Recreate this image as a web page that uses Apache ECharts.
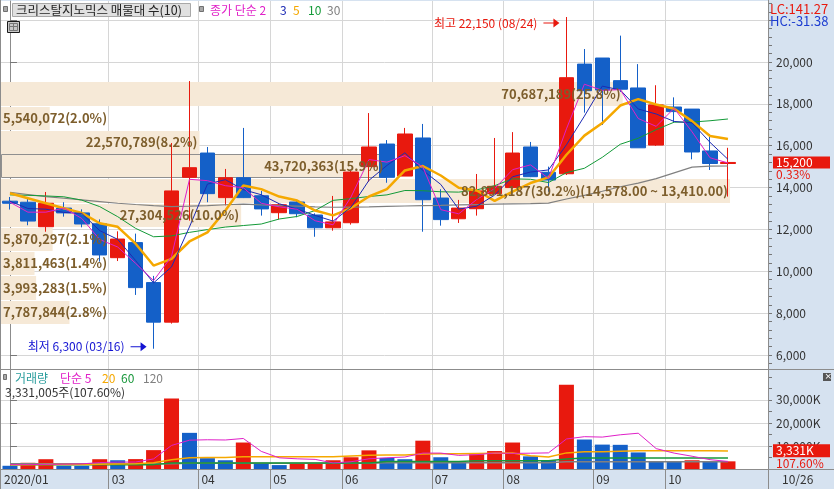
<!DOCTYPE html>
<html><head><meta charset="utf-8">
<script src="https://cdn.jsdelivr.net/npm/echarts@6/dist/echarts.min.js"></script>
<style>html,body{margin:0;padding:0;background:#d6e2f0;}#c{width:834px;height:489px;}</style>
</head><body><div id="c"></div>
<script>
// ---------------- data ----------------
const weeks = ['01/20','01/27','02/03','02/10','02/17','02/24','03/02','03/09','03/16','03/23','03/30','04/06','04/13','04/20','04/27','05/04','05/11','05/18','05/25','06/01','06/08','06/15','06/22','06/29','07/06','07/13','07/20','07/27','08/03','08/10','08/17','08/24','08/31','09/07','09/14','09/21','09/28','10/05','10/12','10/19','10/26'];
const opens  = [13350,13300,12130,13020,12790,12270,10650,11370,9460,7570,14490,15650,13520,14470,13610,12800,13310,12690,12080,12320,15000,16080,14550,16370,13500,12510,12990,13710,14000,15940,14730,14660,19900,20190,19110,18760,16030,17850,17750,15750,15150];
const closes = [13250,12400,13250,12790,12260,10780,11540,9220,7570,13840,14950,13710,14470,13520,12980,13180,12750,12080,12360,14740,15940,14490,16560,13420,12470,13020,13840,14060,15650,14520,14360,19250,18630,18660,18700,15900,17950,17630,15700,15150,15200];
const lows   = [12950,12200,11890,12610,12100,10460,10490,8870,6300,7500,12420,13300,13150,13500,12660,12480,12580,11650,11940,12230,14280,14230,14550,11890,12180,12310,12660,13700,13950,14500,13800,14600,17580,16990,18570,15900,15990,17120,15350,14840,13570];
const highs  = [13550,13550,13790,13300,12960,12480,11910,11800,9780,16130,19090,15940,14890,16850,13840,13250,13410,12770,13600,14800,17560,16270,16850,17040,13920,13410,14650,16370,16650,16180,15000,22150,20620,20190,21260,19900,18890,18310,17750,16560,15900];
const ma2  = [13300,12825,12825,13020,12525,11520,11160,10380,9555,10705,14395,14330,14090,13995,13250,13080,12965,12415,12220,13550,15340,15215,15525,14990,12945,12745,13430,13950,14855,15085,14440,16805,18940,18645,18680,17300,16925,17790,16665,15425,15175];
const ma3  = [13350,13000,12967,12813,12767,11943,11527,10513,9443,10210,12120,14167,14377,13900,13657,13227,12970,12670,12397,13060,14347,15057,15663,14823,14150,12970,13110,13640,14517,14743,14843,16043,17413,18847,18663,17753,17517,17160,17093,16160,15350];
const ma5  = [13730,13490,13250,13010,12790,12296,12124,11318,10274,10590,11424,11858,12908,14098,13926,13572,13380,12902,12670,13022,13574,13922,14818,15030,14576,13992,13862,13362,13808,14218,14486,15568,16482,17084,17920,18228,17968,17768,17176,16466,16326];
const ma10 = [13650,13630,13600,13560,13400,13090,12610,12050,11650,11690,11860,11991,12113,12186,12258,12498,12619,12905,13389,13474,13573,13651,13860,13850,13799,13783,13892,14090,14419,14397,14239,14715,14922,15446,16069,16357,16768,17125,17130,17193,17277];
const ma30 = [13770,13670,13570,13490,13410,13330,13250,13190,13135,13090,13110,13140,13180,13210,13170,13140,13110,13080,13060,13070,13080,13100,13120,13135,13150,13170,13190,13210,13220,13230,13260,13453,13630,13826,14040,14211,14425,14705,14978,15021,15030];
const volumes = [1400000,2700000,4250000,1400000,1350000,4250000,3800000,4300000,8200000,30600000,15700000,4700000,3800000,11500000,2550000,1700000,2550000,2600000,3800000,5100000,8100000,4800000,4250000,12300000,5100000,3100000,6400000,7800000,11500000,5500000,3800000,36600000,12800000,10600000,10500000,7200000,3150000,3050000,3800000,3095730,3331005];
const volMa5   = [1.9,1.9,2.0,2.1,2.22,2.79,3.01,3.02,4.38,10.23,12.52,12.7,12.6,13.26,7.65,4.85,4.42,4.18,2.64,3.15,4.43,4.88,5.21,6.91,6.91,5.91,6.23,6.94,6.78,6.86,7.0,13.04,14.04,13.86,14.86,15.54,8.85,6.9,5.54,4.06,3.29];
const volMa20  = [1.9,1.9,1.95,2.0,2.0,2.1,2.2,2.3,2.7,4.0,4.9,5.0,5.0,5.3,5.3,5.3,5.3,5.3,5.3,5.7,6.0,6.1,6.1,6.5,6.6,6.6,6.7,6.8,6.9,5.8,5.2,7.0,7.5,7.5,7.7,7.9,7.9,7.9,7.9,7.9,7.8];
const volMa60  = [1.9,1.9,1.9,1.9,1.9,1.9,1.9,1.9,1.9,2.6,2.6,2.6,2.6,2.6,2.6,2.6,2.6,2.6,2.6,2.6,2.6,3.3,3.3,3.3,3.3,3.3,3.6,3.6,3.6,3.6,3.6,4.3,4.8,4.8,4.8,4.8,4.8,4.8,4.8,4.8,4.8];
const volMa120 = [2.3,2.3,2.3,2.3,2.3,2.3,2.3,2.3,2.3,2.3,2.5,2.5,2.5,2.5,2.5,2.5,2.5,2.5,2.5,2.5,2.5,2.7,2.7,2.7,2.7,2.7,2.7,2.7,2.7,2.7,2.7,3.1,3.1,3.1,3.1,3.1,3.1,3.1,3.1,3.1,3.1];
const bandEdges = [7480,8640,9800,10960,12120,13280,14440,15600,16760,17920,19080];
const bandVolumes = [7787844,3993283,3811463,5870297,27304526,82891187,43720363,22570789,5540072,70687189];
const topBandRange = [14578, 13410];
const monthTickIndex = [0,6,11,15,19,24,28,33,37];
const monthTickText = ['2020/01','03','04','05','06','07','08','09','10'];
const priceTicks = [6000,8000,10000,12000,14000,16000,18000,20000,22000];
const priceLabels = [6000,8000,10000,12000,14000,16000,18000,20000];
const volTicks = [10000000,20000000,30000000];
const indicatorText = ['LC:141.27','HC:-31.38'];

// ---------------- helpers ----------------
const RED = '#e8190e', BLUE = '#1460c8', GRID = '#d6d6d6';
const FONT = "'Noto Sans CJK KR','Noto Sans',sans-serif";
const fmt = n => Math.round(n).toLocaleString('en-US');
const X_MAX = 767 / 17.95 - 0.5;
const PMIN = 5331, PMAX = 22915, VMAX = 43000000;
const BAND_RATIO = 0.9505;
const n = weeks.length;
const lastClose = closes[n-1], prevClose = closes[n-2];
const lastVol = volumes[n-1], prevVol = volumes[n-2];
const maxBandVol = Math.max(...bandVolumes);
const totalBandVol = bandVolumes.reduce((a,b)=>a+b,0);
const hiVal = Math.max(...highs), hiIdx = highs.indexOf(hiVal);
const loVal = Math.min(...lows), loIdx = lows.indexOf(loVal);
const mctx = document.createElement('canvas').getContext('2d');
const textW = (t, font) => { mctx.font = font; return mctx.measureText(t).width; };
const BAND_FONT = "bold 13px 'Noto Sans CJK KR'";

const minorPrice = []; for (let v = 5600; v <= 22800; v += 400) minorPrice.push(v);
const minorVol = []; for (let v = 0; v <= 40000000; v += 5000000) minorVol.push(v);
const monthBounds = monthTickIndex.filter(i => i > 0).map(i => i - 0.5);
const labelPos = monthTickIndex.map(i => i - 0.5);

const candleData = weeks.map((_, i) => [i, opens[i], closes[i], lows[i], highs[i]]);
const xy = arr => arr.map((v, i) => [i, v]);
const xyM = arr => arr.map((v, i) => [i, v * 1e6]);
const bandData = bandVolumes.map((v, k) => [-0.5, bandEdges[k], bandEdges[k+1], v, k]);

function bandGeom(params, api) {
  const cs = params.coordSys;
  const lo = api.value(1), hi = api.value(2), v = api.value(3);
  const y1 = Math.round(api.coord([0, hi])[1]), y2 = Math.round(api.coord([0, lo])[1]);
  const w = cs.width * BAND_RATIO * v / maxBandVol;
  return {cs, lo, hi, v, y1, y2, w};
}
function bandRect(params, api) {
  const g = bandGeom(params, api);
  const cur = lastClose >= g.lo && lastClose < g.hi;
  return {type: 'rect', shape: {x: g.cs.x + (cur ? 0.5 : 0), y: g.y1 + (cur ? 0.5 : 1), width: g.w, height: g.y2 - g.y1 - 1},
    style: {fill: '#f6e9d7', stroke: cur ? '#8f8f8f' : null, lineWidth: 1}};
}
function bandText(params, api) {
  const g = bandGeom(params, api);
  let txt = fmt(g.v) + '(' + (g.v / totalBandVol * 100).toFixed(1) + '%)';
  if (g.v === maxBandVol) txt += '(' + topBandRange[0].toLocaleString('en-US',{minimumFractionDigits:2}) + ' ~ ' + topBandRange[1].toLocaleString('en-US',{minimumFractionDigits:2}) + ')';
  const tw = textW(txt, BAND_FONT);
  const right = g.w > tw + 4;
  return {type: 'text', x: right ? g.cs.x + g.w - 2 : g.cs.x + 2, y: (g.y1 + g.y2) / 2 + 0.5,
    style: {text: txt, textAlign: right ? 'right' : 'left', textVerticalAlign: 'middle', fill: '#7d5e2c', font: BAND_FONT}};
}
function maLine(data, color, width, xi, yi) {
  return {type: 'line', xAxisIndex: xi, yAxisIndex: yi, data, symbol: 'none', silent: true, z: 4,
    lineStyle: {color, width}, itemStyle: {color}};
}
const ARROW = 'path://M0,4L10,4L10,0L16,4.5L10,9L10,5L0,5Z';
const HIDDEN_LINE = {color: 'rgba(0,0,0,0)', width: 1, type: 'solid'};

const chart = echarts.init(document.getElementById('c'), null, {renderer: 'canvas'});
const gtext = (x, y, text, fill, size) => ({type: 'text', x, y, z: 100, silent: true,
  style: {text, fill, font: (size || 12) + "px 'Noto Sans CJK KR'"}});
const gline = (x1, y1, x2, y2, c) => ({type: 'line', z: 100, silent: true, shape: {x1, y1, x2, y2}, style: {stroke: c || '#8c8c8c', lineWidth: 1}});
const grect = (x, y, w, h, fill, stroke) => ({type: 'rect', z: 100, silent: true, shape: {x, y, width: w, height: h}, style: {fill, stroke: stroke || null, lineWidth: 1}});

const option = {
  animation: false,
  backgroundColor: '#d6e2f0',
  textStyle: {fontFamily: FONT},
  grid: [
    {left: 1, top: 1, width: 767, height: 368, show: true, backgroundColor: '#fff', borderWidth: 0},
    {left: 1, top: 370, width: 767, height: 99, show: true, backgroundColor: '#fff', borderWidth: 0}
  ],
  xAxis: [
    {type: 'value', gridIndex: 0, min: -0.5, max: X_MAX, axisLine: {show: false},
      axisTick: {show: false, customValues: monthBounds}, axisLabel: {show: false},
      splitLine: {show: true, lineStyle: {color: GRID}}},
    {type: 'value', gridIndex: 1, min: -0.5, max: X_MAX, position: 'bottom',
      axisLine: {show: true, lineStyle: {color: '#8c8c8c'}},
      axisTick: {show: true, customValues: monthBounds, length: 20, lineStyle: {color: '#8c8c8c'}},
      axisLabel: {show: true, customValues: labelPos, align: 'left', margin: 4, color: '#333', fontSize: 12, padding: [0,0,0,3],
        formatter: v => monthTickText[monthTickIndex.indexOf(Math.round(v + 0.5))] || ''},
      splitLine: {show: true, lineStyle: {color: GRID}}}
  ],
  yAxis: [
    {type: 'value', gridIndex: 0, position: 'right', min: PMIN, max: PMAX,
      axisLine: {show: true, lineStyle: {color: '#8c8c8c'}},
      axisTick: {show: true, customValues: priceTicks, length: 7, lineStyle: {color: '#777'}},
      axisLabel: {show: true, customValues: priceLabels, margin: 8, color: '#333', fontSize: 12, formatter: v => fmt(v)},
      splitLine: {show: true, lineStyle: {color: GRID}}},
    {type: 'value', gridIndex: 0, position: 'right', min: PMIN, max: PMAX,
      axisLine: {show: false}, axisTick: {show: true, customValues: minorPrice, length: 4, lineStyle: {color: '#777'}},
      axisLabel: {show: false}, splitLine: {show: false}},
    {type: 'value', gridIndex: 1, position: 'right', min: 0, max: VMAX,
      axisLine: {show: true, lineStyle: {color: '#8c8c8c'}},
      axisTick: {show: true, customValues: volTicks, length: 7, lineStyle: {color: '#777'}},
      axisLabel: {show: true, customValues: volTicks, margin: 8, color: '#333', fontSize: 12, formatter: v => fmt(v / 1000) + 'K'},
      splitLine: {show: true, lineStyle: {color: GRID}}},
    {type: 'value', gridIndex: 1, position: 'right', min: 0, max: VMAX,
      axisLine: {show: false}, axisTick: {show: true, customValues: minorVol, length: 4, lineStyle: {color: '#777'}},
      axisLabel: {show: false}, splitLine: {show: false}}
  ],
  series: [
    {type: 'custom', xAxisIndex: 0, yAxisIndex: 0, z: 1, silent: true, renderItem: bandRect, data: bandData},
    {type: 'candlestick', xAxisIndex: 0, yAxisIndex: 0, z: 3, barWidth: 15, silent: true, data: candleData,
      itemStyle: {color: RED, color0: BLUE, borderColor: RED, borderColor0: BLUE, borderWidth: 1},
      markLine: {silent: true, symbol: ['none', 'none'], animation: false, z: 10, lineStyle: HIDDEN_LINE,
        label: {show: true, position: 'end', distance: 5,
          formatter: '{e| }\n{a|' + fmt(lastClose) + '}\n{b|' + ((lastClose - prevClose) / prevClose * 100).toFixed(2) + '%}',
          rich: {e: {height: 11, lineHeight: 11, fontSize: 11},
            a: {backgroundColor: RED, color: '#fff', width: 50, height: 12, lineHeight: 12, padding: [0, 4, 0, 3], fontSize: 12, fontFamily: FONT},
            b: {color: RED, height: 11, lineHeight: 11, fontSize: 12, padding: [0, 0, 0, 3], fontFamily: FONT}}},
        emphasis: {disabled: true},
        data: [{yAxis: lastClose}]},
      markPoint: {silent: true, animation: false, symbol: ARROW, symbolSize: [16, 9],
        data: [
          {coord: [hiIdx, hiVal], symbolOffset: [-15, 6], itemStyle: {color: RED},
            label: {show: true, position: 'left', distance: 6, color: RED, fontSize: 12, fontFamily: FONT,
              formatter: '최고 ' + fmt(hiVal) + ' (' + weeks[hiIdx] + ')'}},
          {coord: [loIdx, loVal], symbolOffset: [-15, -2], itemStyle: {color: '#1414d2'},
            label: {show: true, position: 'left', distance: 6, color: '#1414d2', fontSize: 12, fontFamily: FONT,
              formatter: '최저 ' + fmt(loVal) + ' (' + weeks[loIdx] + ')'}}
        ]}},
    maLine(xy(ma30), '#808080', 1.2, 0, 0),
    maLine(xy(ma10), '#139a38', 1, 0, 0),
    maLine(xy(ma5), '#f5a800', 2.5, 0, 0),
    maLine(xy(ma3), '#1c2ab4', 1, 0, 0),
    maLine(xy(ma2), '#e020c8', 1, 0, 0),
    {type: 'custom', xAxisIndex: 0, yAxisIndex: 0, z: 6, silent: true, renderItem: bandText, data: bandData},
    {type: 'bar', xAxisIndex: 1, yAxisIndex: 2, barWidth: 15, silent: true, z: 2, data: xy(volumes),
      itemStyle: {color: p => (p.dataIndex > 0 && volumes[p.dataIndex] > volumes[p.dataIndex - 1]) ? RED : BLUE},
      markLine: {silent: true, symbol: ['none', 'none'], animation: false, z: 10, lineStyle: HIDDEN_LINE,
        label: {show: true, position: 'end', distance: 5,
          formatter: '{a|' + fmt(lastVol / 1000) + 'K}\n{b|' + (lastVol / prevVol * 100).toFixed(2) + '%}\n{e| }',
          rich: {e: {height: 9, lineHeight: 9, fontSize: 9},
            a: {backgroundColor: RED, color: '#fff', width: 50, height: 13, lineHeight: 13, padding: [0, 4, 0, 3], fontSize: 12, fontFamily: FONT},
            b: {color: RED, height: 12, lineHeight: 12, fontSize: 12, padding: [0, 0, 0, 3], fontFamily: FONT}}},
        emphasis: {disabled: true},
        data: [{yAxis: lastVol}]}},
    maLine(xyM(volMa120), '#808080', 1.5, 1, 2),
    maLine(xyM(volMa60), '#17963a', 1.5, 1, 2),
    maLine(xyM(volMa20), '#f5a800', 1.5, 1, 2),
    maLine(xyM(volMa5), '#e020c8', 1, 1, 2)
  ],
  graphic: [
    gline(0, 369.5, 834, 369.5), gline(0, 469.5, 834, 469.5),
    gline(0.5, 0, 0.5, 489), gline(768.5, 0, 768.5, 489),
    grect(3.5, 6.5, 4, 5, '#a8a8a8', '#707070'),
    grect(12.5, 3.5, 178, 13, '#e0e0e0', '#a8a8a8'),
    gtext(16, 3.5, '크리스탈지노믹스 매물대 수(10)', '#222', 12.5),
    grect(199.5, 6.5, 4, 5, '#a8a8a8', '#707070'),
    gtext(210, 4, '종가 단순 2', '#e020c8'),
    gtext(280, 4, '3', '#1c2ab4'),
    gtext(293, 4, '5', '#f5a800'),
    gtext(308, 4, '10', '#139a38'),
    gtext(327, 4, '30', '#808080'),
    grect(7.5, 21.5, 12, 11, '#c8c8c8', '#1a1a1a'),
    grect(9.5, 23.5, 8, 7, 'rgba(0,0,0,0)', '#777'),
    gline(9.5, 26.5, 17.5, 26.5, '#777'), gline(13.5, 23.5, 13.5, 30.5, '#777'),
    gtext(770, 3, indicatorText[0], RED, 13),
    gtext(770, 15, indicatorText[1], '#1c3cd0', 13),
    grect(3.5, 374.5, 3, 5, '#a8a8a8', '#707070'),
    gtext(15, 372, '거래량', '#2a9d9d'),
    gtext(60, 372, '단순 5', '#e020c8'),
    gtext(102, 372, '20', '#f5a800'),
    gtext(121, 372, '60', '#17963a'),
    gtext(143, 372, '120', '#808080'),
    gtext(5, 386, fmt(lastVol) + '주(' + (lastVol / prevVol * 100).toFixed(2) + '%)', '#333'),
    grect(823, 373, 8, 8, '#555'),
    {type: 'text', x: 824.5, y: 372, z: 101, silent: true, style: {text: '×', fill: '#fff', font: "9px 'DejaVu Sans'"}},
    gtext(782, 473, weeks[n-1], '#333')
  ]
};
chart.setOption(option);
</script></body></html>
